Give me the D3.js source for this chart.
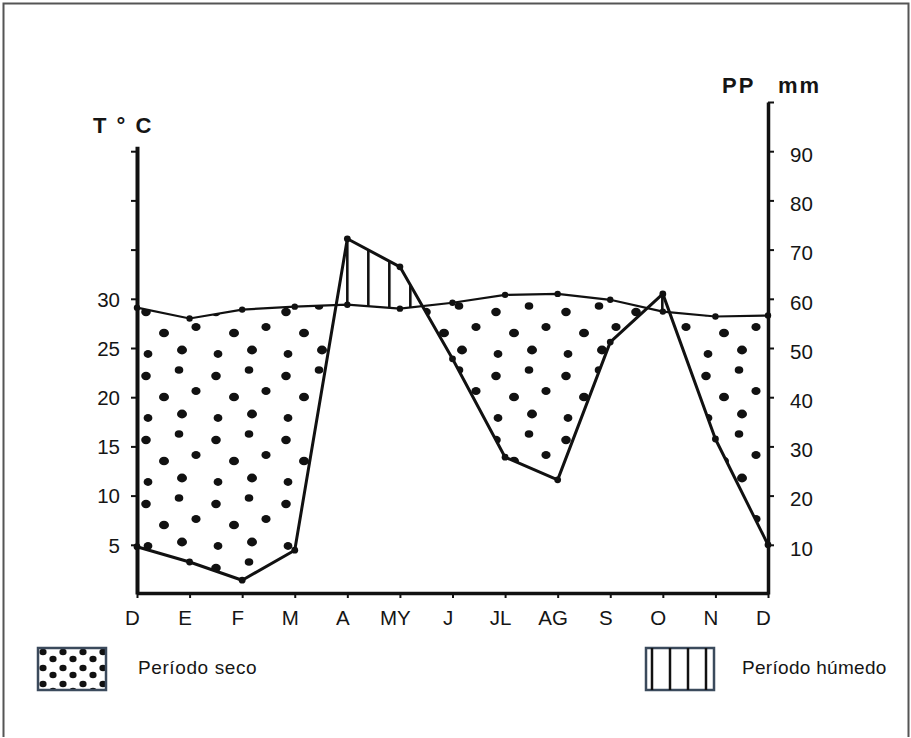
<!DOCTYPE html>
<html><head><meta charset="utf-8">
<script src="https://cdn.jsdelivr.net/npm/d3@7"></script>
<style>
body{margin:0;background:#fff}
svg{display:block}
text{font-family:"Liberation Sans",Arial,sans-serif;fill:#151515}
</style>
</head><body>
<script>
// ---- data ----
const months = ["D","E","F","M","A","MY","J","JL","AG","S","O","N","D"];
const temperature = [29.1, 28.0, 28.9, 29.2, 29.4, 29.0, 29.6, 30.4, 30.5, 29.9, 28.7, 28.2, 28.3];   // °C
const precipitation = [9.6, 6.5, 2.8, 8.9, 72.2, 66.5, 47.8, 27.8, 23.2, 51.2, 61.0, 31.5, 10.0]; // mm
const tempTicks = [5, 10, 15, 20, 25, 30, 35, 40, 45];
const tempTickLabels = [5, 10, 15, 20, 25, 30];
const precipTicks = [10, 20, 30, 40, 50, 60, 70, 80, 90, 100];
const precipTickLabels = [10, 20, 30, 40, 50, 60, 70, 80, 90];
const legendLabels = ["Período seco", "Período húmedo"];

const W = 911, H = 738;
const svg = d3.select("body").append("svg").attr("width", W).attr("height", H);

const x = d3.scaleLinear().domain([0, months.length - 1]).range([137, 768]);
const yT = d3.scaleLinear().domain([0, 50]).range([594, 102]);
const yP = d3.scaleLinear().domain([0, 100]).range([594, 102]);

// frame
svg.append("path").attr("d", "M3.5,737 V3.5 H908.5 V737")
  .attr("fill", "none").attr("stroke", "#555").attr("stroke-width", 2);

const defs = svg.append("defs");
// irregular dot pattern for dry period
const dotPat = defs.append("pattern").attr("id", "dots").attr("patternUnits", "userSpaceOnUse")
  .attr("width", 70).attr("height", 64).attr("x", 137).attr("y", 300);
[[9,12,4.8,4.2],[42,6,4.3,3.8],[27,33,5,4.3],[59,27,4.6,4.0],[11,54,4.4,3.9],[45,50,5,4.4]].forEach(p =>
  dotPat.append("ellipse").attr("cx", p[0]).attr("cy", p[1]).attr("rx", p[2]).attr("ry", p[3]).attr("fill", "#111"));
// dense dot pattern for legend
const dotPat2 = defs.append("pattern").attr("id", "dotsL").attr("patternUnits", "userSpaceOnUse")
  .attr("width", 20).attr("height", 16).attr("x", 38).attr("y", 648);
[[5,4],[15,11]].forEach(p =>
  dotPat2.append("ellipse").attr("cx", p[0]).attr("cy", p[1]).attr("rx", 3.6).attr("ry", 3.3).attr("fill", "#111"));
// vertical hatch for humid period
const hatch = defs.append("pattern").attr("id", "hatch").attr("patternUnits", "userSpaceOnUse")
  .attr("width", 21).attr("height", 10).attr("x", x(4) - 1.3).attr("y", 0);
hatch.append("rect").attr("x", 0).attr("y", 0).attr("width", 2.6).attr("height", 10).attr("fill", "#111");

const idx = d3.range(months.length);
const belowT = d3.area().x(i => x(i)).y0(yT(0)).y1(i => yT(temperature[i]));
const aboveT = d3.area().x(i => x(i)).y0(0).y1(i => yT(temperature[i]));
const aboveP = d3.area().x(i => x(i)).y0(0).y1(i => yP(precipitation[i]));
const belowP = d3.area().x(i => x(i)).y0(yP(0)).y1(i => yP(precipitation[i]));

defs.append("clipPath").attr("id", "clipBelowT").append("path").attr("d", belowT(idx));
defs.append("clipPath").attr("id", "clipAboveT").append("path").attr("d", aboveT(idx));

// dry: above precipitation, below temperature
svg.append("path").attr("d", aboveP(idx)).attr("fill", "url(#dots)").attr("clip-path", "url(#clipBelowT)");
// humid: below precipitation, above temperature
svg.append("path").attr("d", belowP(idx)).attr("fill", "url(#hatch)").attr("clip-path", "url(#clipAboveT)");

// lines
const lineT = d3.line().x(i => x(i)).y(i => yT(temperature[i]));
const lineP = d3.line().x(i => x(i)).y(i => yP(precipitation[i]));
svg.append("path").attr("d", lineT(idx)).attr("fill", "none").attr("stroke", "#111").attr("stroke-width", 2.2);
svg.append("path").attr("d", lineP(idx)).attr("fill", "none").attr("stroke", "#111").attr("stroke-width", 3).attr("stroke-linejoin", "round");
svg.selectAll(".tdot").data(idx).join("circle").attr("cx", i => x(i)).attr("cy", i => yT(temperature[i])).attr("r", 3.2).attr("fill", "#111");
svg.selectAll(".pdot").data(idx).join("circle").attr("cx", i => x(i)).attr("cy", i => yP(precipitation[i])).attr("r", 3.4).attr("fill", "#111");

// left axis
const yTl = yT.copy().domain([0, 45.5]).range([yT(0), yT(45.5)]);
const gL = svg.append("g").attr("transform", `translate(${x(0)},0)`)
  .call(d3.axisLeft(yTl).tickValues(tempTicks).tickSize(6).tickSizeOuter(0).tickPadding(11)
    .tickFormat(d => tempTickLabels.includes(d) ? d : ""));
gL.attr("font-family", null);
gL.select(".domain").attr("stroke", "#111").attr("stroke-width", 4);
gL.selectAll(".tick line").attr("stroke", "#111").attr("stroke-width", 2);
gL.selectAll("text").attr("font-size", 20.5).attr("fill", "#151515").attr("dy", "0.36em");

// right axis
const gR = svg.append("g").attr("transform", `translate(${x(12)},0)`)
  .call(d3.axisRight(yP).tickValues(precipTicks).tickSize(6).tickSizeOuter(0).tickPadding(16)
    .tickFormat(d => precipTickLabels.includes(d) ? d : ""));
gR.attr("font-family", null);
gR.select(".domain").attr("stroke", "#111").attr("stroke-width", 3.5);
gR.selectAll(".tick line").attr("stroke", "#111").attr("stroke-width", 2);
gR.selectAll("text").attr("font-size", 20.5).attr("fill", "#151515").attr("dy", "0.5em");

// bottom axis
const gB = svg.append("g").attr("transform", `translate(0,${yT(0) - 1})`)
  .call(d3.axisBottom(x).tickValues(idx).tickSize(5).tickSizeOuter(0).tickPadding(12)
    .tickFormat(i => months[i]));
gB.attr("font-family", null);
gB.select(".domain").attr("stroke", "#111").attr("stroke-width", 3.5);
gB.selectAll(".tick line").attr("stroke", "#111").attr("stroke-width", 2);
gB.selectAll("text").attr("font-size", 20.5).attr("fill", "#151515").attr("dx", -5);

// axis titles
svg.append("text").attr("x", 93).attr("y", 133).attr("font-size", 22).attr("font-weight", "bold")
  .attr("letter-spacing", 2).style("white-space", "pre").text("T ° C");
svg.append("text").attr("x", 722).attr("y", 93).attr("font-size", 22).attr("font-weight", "bold")
  .attr("letter-spacing", 2).text("PP");
svg.append("text").attr("x", 778).attr("y", 93).attr("font-size", 22).attr("font-weight", "bold")
  .attr("letter-spacing", 2).text("mm");

// legend
svg.append("rect").attr("x", 38).attr("y", 648).attr("width", 68).attr("height", 42)
  .attr("fill", "url(#dotsL)").attr("stroke", "#3b4a5c").attr("stroke-width", 2.5);
svg.append("text").attr("x", 138).attr("y", 667).attr("dy", "0.35em").attr("font-size", 19)
  .attr("letter-spacing", 0.6).text(legendLabels[0]);
svg.append("rect").attr("x", 646).attr("y", 648).attr("width", 68).attr("height", 42)
  .attr("fill", "#fff").attr("stroke", "#3b4a5c").attr("stroke-width", 2.5);
[652, 670, 688, 706].forEach(lx =>
  svg.append("line").attr("x1", lx).attr("x2", lx).attr("y1", 648).attr("y2", 690)
    .attr("stroke", "#111").attr("stroke-width", 2.5));
svg.append("text").attr("x", 742).attr("y", 667).attr("dy", "0.35em").attr("font-size", 19)
  .attr("letter-spacing", 0.3).text(legendLabels[1]);
</script>
</body></html>
